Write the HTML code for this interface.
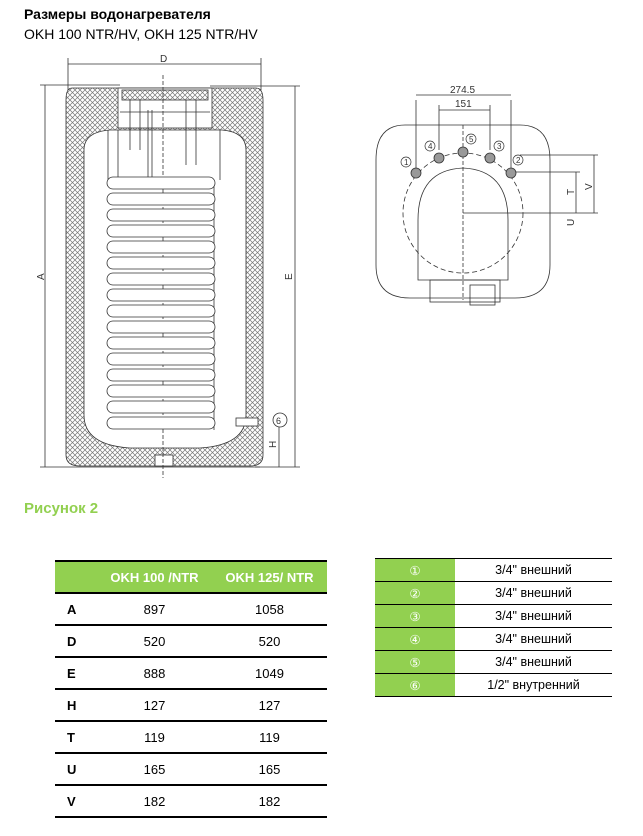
<!DOCTYPE html>
<html><head><meta charset="utf-8"><style>
body{margin:0;width:643px;height:836px;background:#fff;font-family:"Liberation Sans","DejaVu Sans",sans-serif;position:relative;overflow:hidden}
.t{position:absolute;color:#000}
table{border-collapse:collapse;position:absolute;font-size:13px}
</style></head><body>
<div class="t" style="left:24px;top:6px;font-size:14px;font-weight:bold">Размеры водонагревателя</div>
<div class="t" style="left:24px;top:26px;font-size:14px">OKH 100 NTR/HV, OKH 125 NTR/HV</div>
<div class="t" style="left:24px;top:500px;font-size:15px;font-weight:bold;color:#92d050">Рисунок 2</div>

<svg width="643" height="500" style="position:absolute;left:0;top:0" font-family="Liberation Sans,sans-serif">
<defs><pattern id="h" width="5" height="5" patternUnits="userSpaceOnUse"><path d="M0 0L5 5M5 0L0 5" stroke="#777" stroke-width="0.7"/></pattern></defs>
<g stroke="#333" fill="none" stroke-width="0.8">
<!-- dims -->
<line x1="68" y1="64" x2="261" y2="64"/><line x1="68" y1="58" x2="68" y2="90"/><line x1="261" y1="58" x2="261" y2="90"/>
<line x1="45" y1="85" x2="45" y2="467"/><line x1="40" y1="85" x2="120" y2="85"/><line x1="40" y1="467" x2="260" y2="467"/>
<line x1="295" y1="86" x2="295" y2="467"/><line x1="210" y1="86" x2="300" y2="86"/><line x1="255" y1="467" x2="300" y2="467"/>
<line x1="279" y1="420" x2="279" y2="467"/>
<!-- outer insulation -->
<path d="M72 88 Q66 88 66 100 L66 455 Q66 466 80 466 L250 466 Q263 466 263 455 L263 100 Q263 88 256 88 Z" fill="url(#h)"/>
<path d="M84 150 Q84 132 110 130 L222 130 Q246 132 246 150 L246 415 Q246 445 200 448 L130 448 Q84 445 84 415 Z" fill="#fff"/>
<rect x="118" y="88" width="94" height="40" fill="#fff"/>
<rect x="122" y="90" width="86" height="10" fill="url(#h)"/>
<rect x="155" y="455" width="18" height="11" fill="#fff"/>
<line x1="120" y1="112" x2="210" y2="112"/>
<line x1="130" y1="100" x2="130" y2="150"/><line x1="140" y1="100" x2="140" y2="150"/>
<line x1="186" y1="100" x2="186" y2="165"/><line x1="196" y1="100" x2="196" y2="165"/>
<line x1="148" y1="110" x2="148" y2="180"/><line x1="152" y1="110" x2="152" y2="180"/>
<line x1="108" y1="130" x2="108" y2="180"/><line x1="118" y1="130" x2="118" y2="180"/>
<line x1="220" y1="130" x2="220" y2="180"/><line x1="214" y1="180" x2="214" y2="430"/>
<line x1="163" y1="75" x2="163" y2="478" stroke-dasharray="4 2"/>
</g>
<g stroke="#333" fill="#fff" stroke-width="0.8">
<rect x="107" y="177" width="108" height="12" rx="6"/><rect x="107" y="193" width="108" height="12" rx="6"/><rect x="107" y="209" width="108" height="12" rx="6"/><rect x="107" y="225" width="108" height="12" rx="6"/><rect x="107" y="241" width="108" height="12" rx="6"/><rect x="107" y="257" width="108" height="12" rx="6"/><rect x="107" y="273" width="108" height="12" rx="6"/><rect x="107" y="289" width="108" height="12" rx="6"/><rect x="107" y="305" width="108" height="12" rx="6"/><rect x="107" y="321" width="108" height="12" rx="6"/><rect x="107" y="337" width="108" height="12" rx="6"/><rect x="107" y="353" width="108" height="12" rx="6"/><rect x="107" y="369" width="108" height="12" rx="6"/><rect x="107" y="385" width="108" height="12" rx="6"/><rect x="107" y="401" width="108" height="12" rx="6"/><rect x="107" y="417" width="108" height="12" rx="6"/>
<rect x="236" y="418" width="22" height="8"/>
<circle cx="280" cy="420" r="7"/>
</g>
<g font-size="10" fill="#333">
<text x="160" y="62">D</text><text x="276" y="424" font-size="9">6</text>
<text x="44" y="280" transform="rotate(-90 44 280)">A</text>
<text x="292" y="280" transform="rotate(-90 292 280)">E</text>
<text x="276" y="448" transform="rotate(-90 276 448)">H</text>
</g>
<!-- top view -->
<g stroke="#333" fill="none" stroke-width="0.8">
<path d="M405 125 L520 125 Q550 125 550 160 L550 265 Q550 298 515 298 L410 298 Q376 298 376 265 L376 160 Q376 125 405 125 Z"/>
<circle cx="463" cy="213" r="60" stroke-dasharray="5 3"/>
<path d="M418 280 L418 220 Q418 170 463 168 Q508 170 508 220 L508 280 Z"/>
<rect x="430" y="280" width="70" height="22"/><rect x="470" y="285" width="25" height="20"/>
<line x1="416" y1="100" x2="416" y2="170"/><line x1="511" y1="100" x2="511" y2="170"/><line x1="416" y1="95" x2="511" y2="95"/>
<line x1="439" y1="105" x2="439" y2="150"/><line x1="490" y1="105" x2="490" y2="150"/><line x1="439" y1="110" x2="490" y2="110"/>
<line x1="520" y1="155" x2="598" y2="155"/><line x1="510" y1="172" x2="580" y2="172"/><line x1="463" y1="213" x2="598" y2="213"/>
<line x1="576" y1="172" x2="576" y2="213"/><line x1="594" y1="155" x2="594" y2="213"/>
<line x1="463" y1="125" x2="463" y2="300" stroke-dasharray="4 2"/>
</g>
<g stroke="#333" fill="#999" stroke-width="0.8">
<circle cx="416" cy="173" r="5"/><circle cx="511" cy="173" r="5"/><circle cx="439" cy="158" r="5"/><circle cx="490" cy="158" r="5"/><circle cx="463" cy="152" r="5"/>
</g>
<g stroke="#333" fill="#fff" stroke-width="0.7"><circle cx="406" cy="162" r="5"/><circle cx="518" cy="160" r="5"/><circle cx="430" cy="146" r="5"/><circle cx="499" cy="146" r="5"/><circle cx="471" cy="139" r="5"/></g>
<g font-size="8" fill="#333"><text x="404" y="165">1</text><text x="516" y="163">2</text><text x="428" y="149">4</text><text x="497" y="149">3</text><text x="469" y="142">5</text>
<text x="450" y="93" font-size="10">274.5</text><text x="455" y="107" font-size="10">151</text>
<text x="574" y="195" font-size="10" transform="rotate(-90 574 195)">T</text>
<text x="574" y="210" font-size="10" transform="rotate(-90 574 210)" dx="-16">U</text>
<text x="592" y="190" font-size="10" transform="rotate(-90 592 190)">V</text></g>
</svg>

<table style="left:55px;top:560px;width:272px">
<tr style="background:#92d050;color:#fff;font-weight:bold;height:32px;border-top:2px solid #000;border-bottom:2px solid #000"><td style="width:40px"></td><td style="text-align:center">OKH 100 /NTR</td><td style="text-align:center">OKH 125/ NTR</td></tr>
<tr style="height:32px;border-bottom:2px solid #000"><td style="font-weight:bold;padding-left:12px">A</td><td align="center">897</td><td align="center">1058</td></tr>
<tr style="height:32px;border-bottom:2px solid #000"><td style="font-weight:bold;padding-left:12px">D</td><td align="center">520</td><td align="center">520</td></tr>
<tr style="height:32px;border-bottom:2px solid #000"><td style="font-weight:bold;padding-left:12px">E</td><td align="center">888</td><td align="center">1049</td></tr>
<tr style="height:32px;border-bottom:2px solid #000"><td style="font-weight:bold;padding-left:12px">H</td><td align="center">127</td><td align="center">127</td></tr>
<tr style="height:32px;border-bottom:2px solid #000"><td style="font-weight:bold;padding-left:12px">T</td><td align="center">119</td><td align="center">119</td></tr>
<tr style="height:32px;border-bottom:2px solid #000"><td style="font-weight:bold;padding-left:12px">U</td><td align="center">165</td><td align="center">165</td></tr>
<tr style="height:32px;border-bottom:2px solid #000"><td style="font-weight:bold;padding-left:12px">V</td><td align="center">182</td><td align="center">182</td></tr>
</table>

<table style="left:375px;top:558px;width:237px;font-size:12.5px">
<tr style="height:23px;border-top:1px solid #000;border-bottom:1px solid #000"><td style="background:#92d050;color:#fff;width:78px;text-align:center;font-family:'DejaVu Sans',sans-serif">①</td><td align="center">3/4" внешний</td></tr>
<tr style="height:23px;border-bottom:1px solid #000"><td style="background:#92d050;color:#fff;text-align:center;font-family:'DejaVu Sans',sans-serif">②</td><td align="center">3/4" внешний</td></tr>
<tr style="height:23px;border-bottom:1px solid #000"><td style="background:#92d050;color:#fff;text-align:center;font-family:'DejaVu Sans',sans-serif">③</td><td align="center">3/4" внешний</td></tr>
<tr style="height:23px;border-bottom:1px solid #000"><td style="background:#92d050;color:#fff;text-align:center;font-family:'DejaVu Sans',sans-serif">④</td><td align="center">3/4" внешний</td></tr>
<tr style="height:23px;border-bottom:1px solid #000"><td style="background:#92d050;color:#fff;text-align:center;font-family:'DejaVu Sans',sans-serif">⑤</td><td align="center">3/4" внешний</td></tr>
<tr style="height:23px;border-bottom:1px solid #000"><td style="background:#92d050;color:#fff;text-align:center;font-family:'DejaVu Sans',sans-serif">⑥</td><td align="center">1/2" внутренний</td></tr>
</table>
</body></html>
